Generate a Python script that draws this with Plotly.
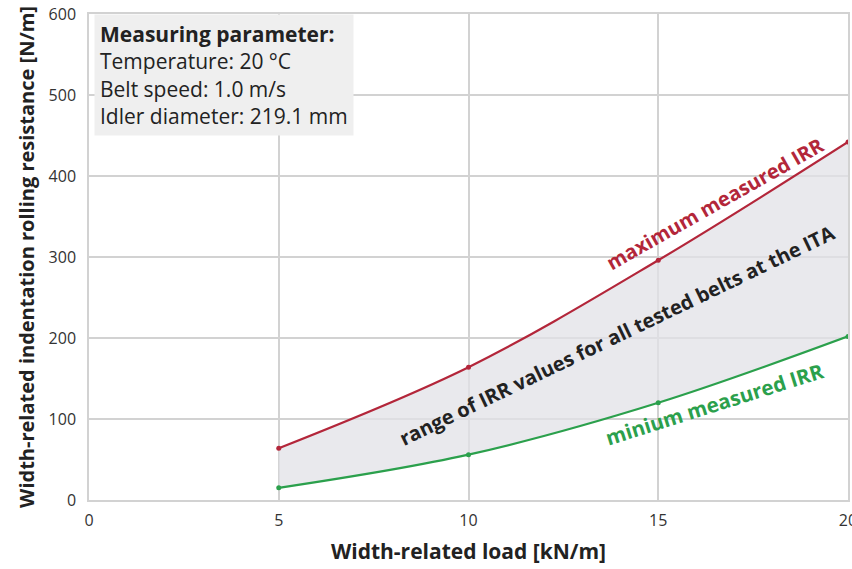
import plotly.graph_objects as go

load = [5, 10, 15, 20]
irr_max = [64, 164, 296, 442]
irr_min = [15, 56, 120, 202]
x_ticks = [0, 5, 10, 15, 20]
y_ticks = [0, 100, 200, 300, 400, 500, 600]

red = "#b3263a"
green = "#2ba04c"
font = "Open Sans"
grid = "#d2d2d2"

fig = go.Figure()
fig.add_trace(go.Scatter(x=load, y=irr_min, mode="lines+markers", line=dict(color=green, width=2.2, shape="spline"),
                         marker=dict(size=5, color=green), showlegend=False))
fig.add_trace(go.Scatter(x=load, y=irr_max, mode="lines+markers", line=dict(color=red, width=2.2, shape="spline"),
                         marker=dict(size=5, color=red), fill="tonexty", fillcolor="rgba(226,226,231,0.75)",
                         showlegend=False))

fig.add_annotation(x=16.5, y=366, text="<b>maximum measured IRR</b>", showarrow=False, textangle=-29.5,
                   font=dict(family=font, size=20, color=red))
fig.add_annotation(x=13.9, y=203, text="<b>range of IRR values for all tested belts at the ITA</b>", showarrow=False,
                   textangle=-25.7, font=dict(family=font, size=20, color="#222"))
fig.add_annotation(x=16.47, y=118, text="<b>minium measured IRR</b>", showarrow=False, textangle=-17.5,
                   font=dict(family=font, size=20.5, color=green))

fig.add_annotation(xref="paper", yref="paper", x=0.006, y=1.0, xanchor="left", yanchor="top", align="left",
                   text="<b>Measuring parameter:</b><br>Temperature: 20 °C<br>Belt speed: 1.0 m/s<br>Idler diameter: 219.1 mm",
                   showarrow=False, bgcolor="#efefef", borderpad=5,
                   font=dict(family=font, size=21, color="#222"))

fig.update_layout(
    width=852, height=569, margin=dict(l=89, r=4, t=14, b=69),
    plot_bgcolor="white", paper_bgcolor="white",
    font=dict(family=font, size=16, color="#333"),
    xaxis=dict(range=[0, 20], tickvals=x_ticks, showgrid=True, gridcolor=grid, gridwidth=1.5,
               showline=True, linecolor=grid, linewidth=1.5, mirror=True, automargin=False,
               zeroline=False, ticks="", ticklabelstandoff=5, ticklabeloverflow="allow",
               title=dict(text="<b>Width-related load [kN/m]</b>", standoff=14,
                          font=dict(family=font, size=21, color="#222"))),
    yaxis=dict(range=[0, 600], tickvals=y_ticks, showgrid=True, gridcolor=grid, gridwidth=1.5,
               showline=True, linecolor=grid, linewidth=1.5, mirror=True, automargin=False,
               zeroline=False, ticks="", ticklabelstandoff=8,
               title=dict(text="<b>Width-related indentation rolling resistance [N/m]</b>",
                          standoff=9, font=dict(family=font, size=20, color="#222"))),
)
fig.write_html("out.html")
